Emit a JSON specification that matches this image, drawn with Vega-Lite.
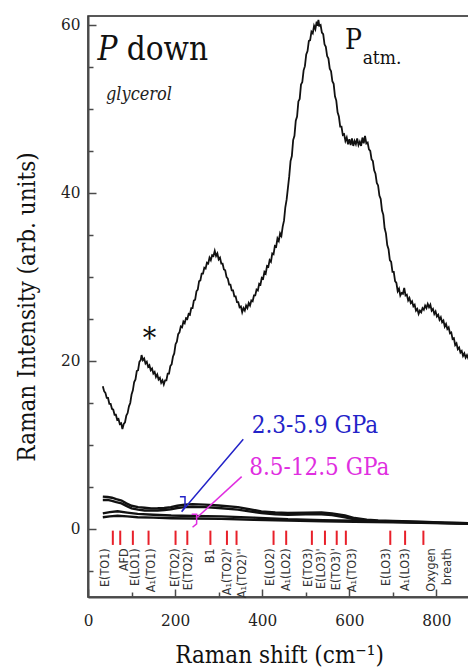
{
  "$schema": "https://vega.github.io/schema/vega-lite/v6.json",
  "width": 382,
  "height": 581,
  "autosize": "none",
  "padding": {"left": 88, "top": 16, "right": 0, "bottom": 70},
  "background": "white",
  "config": {
    "view": {"stroke": "#222", "strokeWidth": 1.5},
    "axis": {
      "grid": false,
      "domainColor": "#4a4a4a",
      "domainWidth": 2,
      "tickColor": "#4a4a4a",
      "tickWidth": 1.5,
      "labelFont": "DejaVu Serif Condensed",
      "labelFontSize": 17,
      "labelColor": "#222",
      "labelOverlap": false,
      "labelBound": false,
      "titleFont": "DejaVu Serif Condensed",
      "titleFontSize": 24,
      "titleFontWeight": "normal",
      "titleColor": "#111"
    }
  },
  "datasets": {
    "atm": [
      {"x": 34, "y": 17.0}, {"x": 37, "y": 16.4}, {"x": 40, "y": 16.2}, {"x": 43, "y": 15.6}, {"x": 46, "y": 15.6},
      {"x": 49, "y": 14.9}, {"x": 52, "y": 14.9}, {"x": 55, "y": 14.3}, {"x": 58, "y": 14.2}, {"x": 61, "y": 13.6},
      {"x": 64, "y": 13.6}, {"x": 67, "y": 13.0}, {"x": 70, "y": 13.1}, {"x": 73, "y": 12.5}, {"x": 76, "y": 12.6},
      {"x": 79, "y": 11.9}, {"x": 82, "y": 12.5}, {"x": 85, "y": 12.7}, {"x": 88, "y": 13.5}, {"x": 91, "y": 13.8},
      {"x": 94, "y": 14.6}, {"x": 97, "y": 15.0}, {"x": 100, "y": 16.0}, {"x": 103, "y": 16.5}, {"x": 106, "y": 17.5},
      {"x": 109, "y": 17.8}, {"x": 112, "y": 18.8}, {"x": 115, "y": 18.9}, {"x": 118, "y": 19.9}, {"x": 121, "y": 20.1},
      {"x": 123, "y": 20.7}, {"x": 126, "y": 20.1}, {"x": 129, "y": 20.3}, {"x": 132, "y": 19.7}, {"x": 135, "y": 19.9},
      {"x": 138, "y": 19.3}, {"x": 141, "y": 19.5}, {"x": 144, "y": 18.9}, {"x": 147, "y": 19.1}, {"x": 150, "y": 18.5},
      {"x": 153, "y": 18.7}, {"x": 156, "y": 18.1}, {"x": 159, "y": 18.4}, {"x": 162, "y": 17.8}, {"x": 165, "y": 18.0},
      {"x": 168, "y": 17.4}, {"x": 171, "y": 17.7}, {"x": 174, "y": 17.2}, {"x": 177, "y": 17.7}, {"x": 180, "y": 17.7},
      {"x": 183, "y": 18.5}, {"x": 186, "y": 18.5}, {"x": 189, "y": 19.4}, {"x": 192, "y": 19.6}, {"x": 195, "y": 20.5},
      {"x": 198, "y": 20.9}, {"x": 201, "y": 22.0}, {"x": 204, "y": 22.3}, {"x": 207, "y": 23.2}, {"x": 210, "y": 23.4},
      {"x": 213, "y": 24.1}, {"x": 216, "y": 24.0}, {"x": 219, "y": 24.7}, {"x": 222, "y": 24.5}, {"x": 225, "y": 25.1},
      {"x": 228, "y": 25.0}, {"x": 231, "y": 25.6}, {"x": 234, "y": 25.5}, {"x": 237, "y": 26.3}, {"x": 240, "y": 26.3},
      {"x": 243, "y": 27.2}, {"x": 246, "y": 27.3}, {"x": 249, "y": 28.3}, {"x": 252, "y": 28.5}, {"x": 255, "y": 29.5},
      {"x": 258, "y": 29.6}, {"x": 261, "y": 30.4}, {"x": 264, "y": 30.4}, {"x": 267, "y": 31.1}, {"x": 270, "y": 31.0},
      {"x": 273, "y": 31.7}, {"x": 276, "y": 31.6}, {"x": 279, "y": 32.3}, {"x": 282, "y": 32.0}, {"x": 285, "y": 32.6},
      {"x": 288, "y": 32.5}, {"x": 291, "y": 33.1}, {"x": 294, "y": 32.5}, {"x": 297, "y": 32.8}, {"x": 300, "y": 32.1},
      {"x": 303, "y": 32.3}, {"x": 306, "y": 31.6}, {"x": 309, "y": 31.6}, {"x": 312, "y": 30.9}, {"x": 315, "y": 30.8},
      {"x": 318, "y": 30.0}, {"x": 321, "y": 29.8}, {"x": 324, "y": 29.1}, {"x": 327, "y": 29.1}, {"x": 330, "y": 28.4},
      {"x": 333, "y": 28.4}, {"x": 336, "y": 27.7}, {"x": 339, "y": 27.7}, {"x": 342, "y": 27.0}, {"x": 345, "y": 27.0},
      {"x": 348, "y": 26.4}, {"x": 351, "y": 26.5}, {"x": 354, "y": 25.8}, {"x": 357, "y": 26.3}, {"x": 360, "y": 26.0},
      {"x": 363, "y": 26.6}, {"x": 366, "y": 26.3}, {"x": 369, "y": 26.9}, {"x": 372, "y": 26.6}, {"x": 375, "y": 27.2},
      {"x": 378, "y": 27.1}, {"x": 381, "y": 27.8}, {"x": 384, "y": 27.8}, {"x": 387, "y": 28.5}, {"x": 390, "y": 28.4},
      {"x": 393, "y": 29.2}, {"x": 396, "y": 29.1}, {"x": 399, "y": 29.9}, {"x": 402, "y": 29.8}, {"x": 405, "y": 30.6},
      {"x": 408, "y": 30.4}, {"x": 411, "y": 31.3}, {"x": 414, "y": 31.2}, {"x": 417, "y": 32.0}, {"x": 420, "y": 31.8},
      {"x": 423, "y": 32.8}, {"x": 426, "y": 32.7}, {"x": 429, "y": 33.7}, {"x": 432, "y": 33.6}, {"x": 435, "y": 34.6},
      {"x": 438, "y": 34.3}, {"x": 441, "y": 35.2}, {"x": 444, "y": 34.9}, {"x": 447, "y": 36.0}, {"x": 450, "y": 36.7},
      {"x": 453, "y": 38.3}, {"x": 456, "y": 39.2}, {"x": 459, "y": 40.6}, {"x": 462, "y": 42.0}, {"x": 465, "y": 43.8},
      {"x": 468, "y": 44.4}, {"x": 471, "y": 46.3}, {"x": 474, "y": 46.8}, {"x": 477, "y": 48.6}, {"x": 480, "y": 49.1},
      {"x": 483, "y": 50.9}, {"x": 486, "y": 51.2}, {"x": 489, "y": 52.9}, {"x": 492, "y": 53.2}, {"x": 495, "y": 54.6},
      {"x": 498, "y": 55.1}, {"x": 501, "y": 56.5}, {"x": 504, "y": 56.9}, {"x": 507, "y": 58.1}, {"x": 510, "y": 58.2},
      {"x": 513, "y": 59.2}, {"x": 516, "y": 59.0}, {"x": 519, "y": 59.9}, {"x": 522, "y": 59.5}, {"x": 525, "y": 60.4},
      {"x": 527, "y": 59.9}, {"x": 529, "y": 60.6}, {"x": 531, "y": 59.9}, {"x": 534, "y": 60.0}, {"x": 537, "y": 59.1},
      {"x": 540, "y": 58.9}, {"x": 543, "y": 57.7}, {"x": 546, "y": 57.4}, {"x": 549, "y": 56.3}, {"x": 552, "y": 56.0},
      {"x": 555, "y": 54.8}, {"x": 558, "y": 54.5}, {"x": 561, "y": 53.3}, {"x": 564, "y": 53.0}, {"x": 567, "y": 51.5},
      {"x": 570, "y": 51.0}, {"x": 573, "y": 49.6}, {"x": 576, "y": 49.1}, {"x": 579, "y": 47.9}, {"x": 582, "y": 47.9},
      {"x": 585, "y": 46.9}, {"x": 588, "y": 47.0}, {"x": 591, "y": 46.2}, {"x": 594, "y": 46.6}, {"x": 597, "y": 45.8},
      {"x": 600, "y": 46.4}, {"x": 603, "y": 45.7}, {"x": 606, "y": 46.5}, {"x": 609, "y": 45.6}, {"x": 612, "y": 46.2},
      {"x": 615, "y": 45.8}, {"x": 618, "y": 46.5}, {"x": 621, "y": 45.7}, {"x": 624, "y": 46.1}, {"x": 627, "y": 45.6},
      {"x": 630, "y": 46.6}, {"x": 633, "y": 45.9}, {"x": 636, "y": 46.8}, {"x": 639, "y": 45.9}, {"x": 642, "y": 46.0},
      {"x": 645, "y": 45.2}, {"x": 648, "y": 45.0}, {"x": 651, "y": 44.0}, {"x": 654, "y": 43.8}, {"x": 657, "y": 42.7},
      {"x": 660, "y": 42.3}, {"x": 663, "y": 41.2}, {"x": 666, "y": 40.9}, {"x": 669, "y": 39.7}, {"x": 672, "y": 39.3},
      {"x": 675, "y": 37.9}, {"x": 678, "y": 37.4}, {"x": 681, "y": 35.8}, {"x": 684, "y": 35.2}, {"x": 687, "y": 33.8},
      {"x": 690, "y": 33.3}, {"x": 693, "y": 32.0}, {"x": 696, "y": 31.8}, {"x": 699, "y": 30.6}, {"x": 702, "y": 30.6},
      {"x": 705, "y": 29.5}, {"x": 708, "y": 29.3}, {"x": 711, "y": 28.3}, {"x": 714, "y": 28.6}, {"x": 717, "y": 27.8},
      {"x": 720, "y": 28.1}, {"x": 723, "y": 28.0}, {"x": 726, "y": 28.7}, {"x": 729, "y": 27.8}, {"x": 732, "y": 27.9},
      {"x": 735, "y": 27.2}, {"x": 738, "y": 27.5}, {"x": 741, "y": 26.9}, {"x": 744, "y": 27.1}, {"x": 747, "y": 26.5},
      {"x": 750, "y": 26.7}, {"x": 753, "y": 26.0}, {"x": 756, "y": 26.2}, {"x": 759, "y": 25.6}, {"x": 762, "y": 26.0},
      {"x": 765, "y": 25.8}, {"x": 768, "y": 26.3}, {"x": 771, "y": 26.1}, {"x": 774, "y": 26.6}, {"x": 777, "y": 26.3},
      {"x": 780, "y": 26.8}, {"x": 783, "y": 26.4}, {"x": 786, "y": 26.7}, {"x": 789, "y": 26.0}, {"x": 792, "y": 26.2},
      {"x": 795, "y": 25.6}, {"x": 798, "y": 25.9}, {"x": 801, "y": 25.3}, {"x": 804, "y": 25.5}, {"x": 807, "y": 24.9},
      {"x": 810, "y": 25.2}, {"x": 813, "y": 24.6}, {"x": 816, "y": 24.8}, {"x": 819, "y": 24.1}, {"x": 822, "y": 24.4},
      {"x": 825, "y": 23.8}, {"x": 828, "y": 24.0}, {"x": 831, "y": 23.3}, {"x": 834, "y": 23.4}, {"x": 837, "y": 22.6},
      {"x": 840, "y": 22.7}, {"x": 843, "y": 21.9}, {"x": 846, "y": 22.1}, {"x": 849, "y": 21.4}, {"x": 852, "y": 21.6},
      {"x": 855, "y": 21.0}, {"x": 858, "y": 21.2}, {"x": 861, "y": 20.6}, {"x": 864, "y": 20.9}, {"x": 867, "y": 20.4},
      {"x": 870, "y": 20.7}, {"x": 873, "y": 20.3}, {"x": 877, "y": 20.5}
    ],
    "compressed": [
      {"s": "a", "x": 34, "y": 3.85}, {"s": "a", "x": 45, "y": 3.8}, {"s": "a", "x": 55, "y": 3.72}, {"s": "a", "x": 65, "y": 3.55},
      {"s": "a", "x": 77, "y": 3.38}, {"s": "a", "x": 88, "y": 3.05}, {"s": "a", "x": 100, "y": 2.76}, {"s": "a", "x": 115, "y": 2.6},
      {"s": "a", "x": 130, "y": 2.52}, {"s": "a", "x": 145, "y": 2.45}, {"s": "a", "x": 160, "y": 2.46}, {"s": "a", "x": 175, "y": 2.5},
      {"s": "a", "x": 190, "y": 2.6}, {"s": "a", "x": 205, "y": 2.76}, {"s": "a", "x": 222, "y": 2.9}, {"s": "a", "x": 240, "y": 2.96},
      {"s": "a", "x": 268, "y": 2.9}, {"s": "a", "x": 300, "y": 2.8}, {"s": "a", "x": 344, "y": 2.6}, {"s": "a", "x": 370, "y": 2.35},
      {"s": "a", "x": 398, "y": 2.1}, {"s": "a", "x": 430, "y": 1.96}, {"s": "a", "x": 459, "y": 1.9}, {"s": "a", "x": 500, "y": 1.95},
      {"s": "a", "x": 536, "y": 1.96}, {"s": "a", "x": 560, "y": 1.86}, {"s": "a", "x": 590, "y": 1.6}, {"s": "a", "x": 612, "y": 1.3},
      {"s": "a", "x": 640, "y": 1.1}, {"s": "a", "x": 666, "y": 1.0}, {"s": "a", "x": 700, "y": 0.95}, {"s": "a", "x": 765, "y": 0.85},
      {"s": "a", "x": 820, "y": 0.75}, {"s": "a", "x": 877, "y": 0.67},
      {"s": "b", "x": 34, "y": 3.45}, {"s": "b", "x": 45, "y": 3.46}, {"s": "b", "x": 55, "y": 3.35}, {"s": "b", "x": 65, "y": 3.2},
      {"s": "b", "x": 77, "y": 3.05}, {"s": "b", "x": 88, "y": 2.75}, {"s": "b", "x": 100, "y": 2.45}, {"s": "b", "x": 115, "y": 2.3},
      {"s": "b", "x": 130, "y": 2.2}, {"s": "b", "x": 145, "y": 2.2}, {"s": "b", "x": 160, "y": 2.2}, {"s": "b", "x": 175, "y": 2.25},
      {"s": "b", "x": 190, "y": 2.35}, {"s": "b", "x": 205, "y": 2.5}, {"s": "b", "x": 222, "y": 2.6}, {"s": "b", "x": 240, "y": 2.65},
      {"s": "b", "x": 268, "y": 2.6}, {"s": "b", "x": 300, "y": 2.5}, {"s": "b", "x": 344, "y": 2.3}, {"s": "b", "x": 370, "y": 2.1},
      {"s": "b", "x": 398, "y": 1.9}, {"s": "b", "x": 430, "y": 1.75}, {"s": "b", "x": 459, "y": 1.7}, {"s": "b", "x": 500, "y": 1.75},
      {"s": "b", "x": 536, "y": 1.75}, {"s": "b", "x": 560, "y": 1.65}, {"s": "b", "x": 590, "y": 1.4}, {"s": "b", "x": 612, "y": 1.15},
      {"s": "b", "x": 640, "y": 0.95}, {"s": "b", "x": 666, "y": 0.9}, {"s": "b", "x": 700, "y": 0.85}, {"s": "b", "x": 765, "y": 0.78},
      {"s": "b", "x": 820, "y": 0.7}, {"s": "b", "x": 877, "y": 0.63},
      {"s": "c", "x": 34, "y": 1.85}, {"s": "c", "x": 50, "y": 2.0}, {"s": "c", "x": 68, "y": 2.1}, {"s": "c", "x": 90, "y": 1.95},
      {"s": "c", "x": 114, "y": 1.8}, {"s": "c", "x": 150, "y": 1.7}, {"s": "c", "x": 191, "y": 1.6}, {"s": "c", "x": 240, "y": 1.55},
      {"s": "c", "x": 306, "y": 1.5}, {"s": "c", "x": 380, "y": 1.35}, {"s": "c", "x": 459, "y": 1.15}, {"s": "c", "x": 540, "y": 1.05},
      {"s": "c", "x": 612, "y": 0.98}, {"s": "c", "x": 700, "y": 0.88}, {"s": "c", "x": 765, "y": 0.8}, {"s": "c", "x": 877, "y": 0.68},
      {"s": "d", "x": 34, "y": 1.4}, {"s": "d", "x": 50, "y": 1.5}, {"s": "d", "x": 68, "y": 1.58}, {"s": "d", "x": 90, "y": 1.5},
      {"s": "d", "x": 114, "y": 1.4}, {"s": "d", "x": 150, "y": 1.35}, {"s": "d", "x": 191, "y": 1.28}, {"s": "d", "x": 240, "y": 1.25},
      {"s": "d", "x": 306, "y": 1.2}, {"s": "d", "x": 380, "y": 1.1}, {"s": "d", "x": 459, "y": 1.0}, {"s": "d", "x": 540, "y": 0.9},
      {"s": "d", "x": 612, "y": 0.85}, {"s": "d", "x": 700, "y": 0.78}, {"s": "d", "x": 765, "y": 0.72}, {"s": "d", "x": 877, "y": 0.62}
    ],
    "modes": [
      {"x": 57, "lx": 40, "label": "E(TO1)"},
      {"x": 74, "lx": 83, "label": "AFD"},
      {"x": 103, "lx": 107, "label": "E(LO1)"},
      {"x": 139, "lx": 145, "label": "A₁(TO1)"},
      {"x": 201, "lx": 200, "label": "E(TO2)"},
      {"x": 228, "lx": 230, "label": "E(TO2)'"},
      {"x": 281, "lx": 279, "label": "B1"},
      {"x": 319, "lx": 320, "label": "A₁(TO2)'"},
      {"x": 341, "lx": 354, "label": "A₁(TO2)''"},
      {"x": 426, "lx": 417, "label": "E(LO2)"},
      {"x": 455, "lx": 455, "label": "A₁(LO2)"},
      {"x": 514, "lx": 505, "label": "E(TO3)"},
      {"x": 544, "lx": 536, "label": "E(LO3)'"},
      {"x": 571, "lx": 570, "label": "E(TO3)'"},
      {"x": 592, "lx": 605, "label": "A₁(TO3)"},
      {"x": 694, "lx": 685, "label": "E(LO3)"},
      {"x": 728, "lx": 727, "label": "A₁(LO3)"},
      {"x": 770, "lx": 788, "label": "Oxygen\nbreath"}
    ],
    "pointers": [
      {"s": "blue", "o": 1, "x": 211, "y": 3.85},
      {"s": "blue", "o": 2, "x": 222.7, "y": 3.85},
      {"s": "blue", "o": 3, "x": 222.7, "y": 2.65},
      {"s": "blue", "o": 4, "x": 215, "y": 2.06},
      {"s": "blue", "o": 5, "x": 356.5, "y": 10.68},
      {"s": "magenta", "o": 1, "x": 238, "y": 1.75},
      {"s": "magenta", "o": 2, "x": 249.4, "y": 1.75},
      {"s": "magenta", "o": 3, "x": 249.4, "y": 0.6},
      {"s": "magenta", "o": 4, "x": 240, "y": 0.2},
      {"s": "magenta2", "o": 1, "x": 251, "y": 1.39},
      {"s": "magenta2", "o": 2, "x": 352.8, "y": 6.23}
    ]
  },
  "layer": [
    {
      "data": {"name": "atm"},
      "mark": {"type": "line", "color": "#111", "strokeWidth": 1.8, "clip": true},
      "encoding": {
        "x": {
          "field": "x", "type": "quantitative",
          "scale": {"domain": [0, 877], "nice": false, "zero": false},
          "axis": {
            "title": "Raman shift (cm⁻¹)",
            "values": [0, 50, 100, 150, 200, 250, 300, 350, 400, 450, 500, 550, 600, 650, 700, 750, 800, 850],
            "labelExpr": "datum.value % 200 === 0 ? datum.label : ''",
            "labelFlush": false,
            "tickSize": {"condition": {"test": "datum.value % 200 === 0", "value": -8}, "value": -5},
            "labelPadding": 23,
            "titlePadding": 12
          }
        },
        "y": {
          "field": "y", "type": "quantitative",
          "scale": {"domain": [-8.1, 61.07], "nice": false, "zero": false},
          "axis": {
            "title": "Raman Intensity (arb. units)",
            "values": [-5, 0, 5, 10, 15, 20, 25, 30, 35, 40, 45, 50, 55, 60],
            "labelExpr": "datum.value % 20 === 0 ? datum.label : ''",
            "tickSize": {"condition": {"test": "datum.value % 20 === 0", "value": -8}, "value": -5},
            "labelPadding": 16,
            "titlePadding": 21
          }
        }
      }
    },
    {
      "data": {"name": "compressed"},
      "mark": {"type": "line", "color": "#111", "strokeWidth": 2.4, "clip": true},
      "encoding": {
        "x": {"field": "x", "type": "quantitative"},
        "y": {"field": "y", "type": "quantitative"},
        "detail": {"field": "s"}
      }
    },
    {
      "data": {"name": "pointers"},
      "mark": {"type": "line", "strokeWidth": 1.5, "clip": true},
      "encoding": {
        "x": {"field": "x", "type": "quantitative"},
        "y": {"field": "y", "type": "quantitative"},
        "detail": {"field": "s"},
        "order": {"field": "o"},
        "color": {
          "field": "s", "type": "nominal", "legend": null,
          "scale": {"domain": ["blue", "magenta", "magenta2"], "range": ["#2323c8", "#e02ee0", "#e02ee0"]}
        }
      }
    },
    {
      "data": {"name": "modes"},
      "mark": {"type": "rule", "color": "#e8202a", "strokeWidth": 2},
      "encoding": {
        "x": {"field": "x", "type": "quantitative"},
        "y": {"datum": -0.2, "type": "quantitative"},
        "y2": {"datum": -1.9}
      }
    },
    {
      "data": {"name": "modes"},
      "mark": {"type": "text", "angle": 270, "align": "right", "baseline": "middle", "font": "DejaVu Sans Condensed", "fontSize": 12.5, "color": "#333", "lineBreak": "\n", "lineHeight": 16},
      "encoding": {
        "x": {"field": "lx", "type": "quantitative"},
        "y": {"datum": -2.3, "type": "quantitative"},
        "text": {"field": "label"}
      }
    },
    {
      "data": {"values": [{"x": 22, "y": 55.8, "t": "P"}]},
      "mark": {"type": "text", "align": "left", "baseline": "alphabetic", "font": "DejaVu Serif Condensed", "fontStyle": "italic", "fontSize": 33, "color": "#111"},
      "encoding": {"x": {"field": "x", "type": "quantitative"}, "y": {"field": "y", "type": "quantitative"}, "text": {"field": "t"}}
    },
    {
      "data": {"values": [{"x": 88.8, "y": 55.8, "t": "down"}]},
      "mark": {"type": "text", "align": "left", "baseline": "alphabetic", "font": "DejaVu Serif Condensed", "fontSize": 33, "color": "#111"},
      "encoding": {"x": {"field": "x", "type": "quantitative"}, "y": {"field": "y", "type": "quantitative"}, "text": {"field": "t"}}
    },
    {
      "data": {"values": [{"x": 41.3, "y": 51.1, "t": "glycerol"}]},
      "mark": {"type": "text", "align": "left", "baseline": "alphabetic", "font": "DejaVu Serif Condensed", "fontStyle": "italic", "fontSize": 18, "color": "#222"},
      "encoding": {"x": {"field": "x", "type": "quantitative"}, "y": {"field": "y", "type": "quantitative"}, "text": {"field": "t"}}
    },
    {
      "data": {"values": [{"x": 590, "y": 57.2, "t": "P"}]},
      "mark": {"type": "text", "align": "left", "baseline": "alphabetic", "font": "DejaVu Serif Condensed", "fontSize": 28, "color": "#111"},
      "encoding": {"x": {"field": "x", "type": "quantitative"}, "y": {"field": "y", "type": "quantitative"}, "text": {"field": "t"}}
    },
    {
      "data": {"values": [{"x": 630.6, "y": 55.4, "t": "atm."}]},
      "mark": {"type": "text", "align": "left", "baseline": "alphabetic", "font": "DejaVu Serif Condensed", "fontSize": 19, "color": "#111"},
      "encoding": {"x": {"field": "x", "type": "quantitative"}, "y": {"field": "y", "type": "quantitative"}, "text": {"field": "t"}}
    },
    {
      "data": {"values": [{"x": 141, "y": 21.6, "t": "*"}]},
      "mark": {"type": "text", "align": "center", "baseline": "alphabetic", "font": "DejaVu Serif Condensed", "fontSize": 30, "color": "#111"},
      "encoding": {"x": {"field": "x", "type": "quantitative"}, "y": {"field": "y", "type": "quantitative"}, "text": {"field": "t"}}
    },
    {
      "data": {"values": [{"x": 375.8, "y": 11.4, "t": "2.3-5.9 GPa"}]},
      "mark": {"type": "text", "align": "left", "baseline": "alphabetic", "font": "DejaVu Serif Condensed", "fontSize": 24, "color": "#2323c8"},
      "encoding": {"x": {"field": "x", "type": "quantitative"}, "y": {"field": "y", "type": "quantitative"}, "text": {"field": "t"}}
    },
    {
      "data": {"values": [{"x": 370, "y": 6.43, "t": "8.5-12.5 GPa"}]},
      "mark": {"type": "text", "align": "left", "baseline": "alphabetic", "font": "DejaVu Serif Condensed", "fontSize": 24, "color": "#e02ee0"},
      "encoding": {"x": {"field": "x", "type": "quantitative"}, "y": {"field": "y", "type": "quantitative"}, "text": {"field": "t"}}
    }
  ]
}
